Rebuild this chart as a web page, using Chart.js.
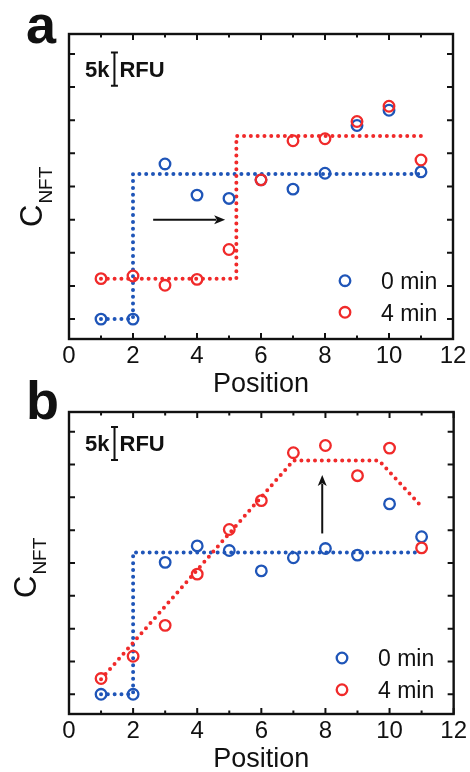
<!DOCTYPE html>
<html>
<head>
<meta charset="utf-8">
<script src="https://cdn.jsdelivr.net/npm/chart.js@4.4.0/dist/chart.umd.min.js"></script>
<style>
  html, body { margin: 0; padding: 0; background: #fff; }
  body { width: 470px; height: 772px; position: relative; overflow: hidden; }
  canvas { position: absolute; left: 0; }
  #chartA { top: 0; }
  #chartB { top: 380px; }
</style>
</head>
<body>
<canvas id="chartA" width="470" height="400"></canvas>
<canvas id="chartB" width="470" height="392"></canvas>
<script>
// positions along the channel
const positions = [1, 2, 3, 4, 5, 6, 7, 8, 9, 10, 11];
const xTicks = [0, 2, 4, 6, 8, 10, 12];
const yTicks = [0, 5, 10, 15, 20, 25, 30, 35, 40]; // k RFU, unlabeled
const seriesLabels = ['0 min', '4 min'];

// panel a (k RFU, arbitrary offset)
const aBlue = [0, 0, 23.4, 18.7, 18.2, 21.0, 19.6, 22.0, 29.2, 31.5, 22.2];
const aRed = [6.1, 6.5, 5.1, 6.0, 10.5, 21.0, 26.9, 27.2, 29.8, 32.1, 24.0];
const aBlueFitX = [1, 2, 2, 11];
const aBlueFitY = [0, 0, 21.9, 21.9];
const aRedFitX = [1, 5.23, 5.23, 11];
const aRedFitY = [6.1, 6.1, 27.6, 27.6];
const aArrow = [2.63, 15.0, 4.88, 15.0];
const aScaleBar = [1.42, 35.2, 40.2];

// panel b
const bBlue = [0, 0, 20.1, 22.6, 21.9, 18.8, 20.8, 22.2, 21.2, 29.0, 24.0];
const bRed = [2.4, 5.8, 10.5, 18.3, 25.1, 29.5, 36.8, 37.9, 33.3, 37.5, 22.3];
const bBlueFitX = [1, 2, 2, 11];
const bBlueFitY = [0, 0, 21.6, 21.6];
const bRedFitX = [1, 7, 9.67, 11];
const bRedFitY = [2.3, 35.6, 35.6, 28.6];
const bArrow = [7.9, 24.5, 7.9, 33.4];
const bScaleBar = [1.42, 35.7, 40.7];

const BLUE = '#1f55b8';
const RED = '#f02a2a';
const INK = '#111';
const FONT = '"Liberation Sans", Arial, sans-serif';

function pts(xs, ys) {
    return xs.map((x, i) => ({ x: x, y: ys[i] }));
}

function fitSet(xs, ys, color, order) {
    return {
        data: pts(xs, ys),
        showLine: true,
        borderColor: color,
        borderWidth: 4,
        borderDash: [0, 6.8],
        borderCapStyle: 'round',
        pointRadius: 0,
        order: order
    };
}

function pointSet(ys, color, order) {
    return {
        data: pts(positions, ys),
        showLine: false,
        borderColor: color,
        backgroundColor: 'transparent',
        borderWidth: 2.3,
        pointRadius: 5.3,
        order: order
    };
}

function decorPlugin(p) {
    return {
        id: 'decor',
        afterDraw(chart) {
            const ctx = chart.ctx;
            const a = chart.chartArea;
            const xs = chart.scales.x, ys = chart.scales.y;
            ctx.save();
            ctx.strokeStyle = INK;
            ctx.fillStyle = INK;

            // frame
            ctx.lineWidth = 2.4;
            ctx.strokeRect(a.left, a.top, a.right - a.left, a.bottom - a.top);

            // inward ticks on all sides
            ctx.lineWidth = 2;
            ctx.beginPath();
            for (let v = xs.min; v <= xs.max; v++) {
                const px = xs.getPixelForValue(v);
                const len = v % 2 === 0 ? 6 : 3.5;
                ctx.moveTo(px, a.bottom); ctx.lineTo(px, a.bottom - len);
                ctx.moveTo(px, a.top); ctx.lineTo(px, a.top + len);
            }
            yTicks.forEach(v => {
                const py = ys.getPixelForValue(v);
                ctx.moveTo(a.left, py); ctx.lineTo(a.left + 6, py);
                ctx.moveTo(a.right, py); ctx.lineTo(a.right - 6, py);
            });
            ctx.stroke();

            // arrow
            const x0 = xs.getPixelForValue(p.arrow[0]), y0 = ys.getPixelForValue(p.arrow[1]);
            const x1 = xs.getPixelForValue(p.arrow[2]), y1 = ys.getPixelForValue(p.arrow[3]);
            const ang = Math.atan2(y1 - y0, x1 - x0);
            const hl = 11, hw = 4.5;
            ctx.lineWidth = 2;
            ctx.beginPath();
            ctx.moveTo(x0, y0);
            ctx.lineTo(x1 - Math.cos(ang) * hl * 0.8, y1 - Math.sin(ang) * hl * 0.8);
            ctx.stroke();
            ctx.beginPath();
            ctx.moveTo(x1, y1);
            ctx.lineTo(x1 - Math.cos(ang) * hl - Math.sin(ang) * hw, y1 - Math.sin(ang) * hl + Math.cos(ang) * hw);
            ctx.lineTo(x1 - Math.cos(ang) * hl * 0.75, y1 - Math.sin(ang) * hl * 0.75);
            ctx.lineTo(x1 - Math.cos(ang) * hl + Math.sin(ang) * hw, y1 - Math.sin(ang) * hl - Math.cos(ang) * hw);
            ctx.closePath();
            ctx.fill();

            // 5k RFU scale bar
            const bx = xs.getPixelForValue(p.scaleBar[0]);
            const by0 = ys.getPixelForValue(p.scaleBar[1]);
            const by1 = ys.getPixelForValue(p.scaleBar[2]);
            ctx.lineWidth = 2;
            ctx.beginPath();
            ctx.moveTo(bx, by0); ctx.lineTo(bx, by1);
            ctx.moveTo(bx - 3.5, by0); ctx.lineTo(bx + 3.5, by0);
            ctx.moveTo(bx - 3.5, by1); ctx.lineTo(bx + 3.5, by1);
            ctx.stroke();
            ctx.font = 'bold 22px ' + FONT;
            ctx.textBaseline = 'alphabetic';
            const tb = (by0 + by1) / 2 + 7.8;
            ctx.textAlign = 'right';
            ctx.fillText('5k', bx - 5, tb);
            ctx.textAlign = 'left';
            ctx.fillText('RFU', bx + 5, tb);

            // legend
            const colors = [BLUE, RED];
            ctx.font = '23px ' + FONT;
            seriesLabels.forEach((lab, i) => {
                const cy = a.bottom - p.legendRows[i];
                const cx = a.left + p.legendX;
                ctx.strokeStyle = colors[i];
                ctx.lineWidth = 2.3;
                ctx.beginPath();
                ctx.arc(cx, cy, 5.3, 0, Math.PI * 2);
                ctx.stroke();
                ctx.fillStyle = INK;
                ctx.textAlign = 'left';
                ctx.fillText(lab, cx + 36, cy + 8.3);
            });

            // x title
            ctx.font = '27px ' + FONT;
            ctx.textAlign = 'center';
            ctx.fillText('Position', (a.left + a.right) / 2, a.bottom + 53);

            // y title C_NFT
            ctx.textAlign = 'left';
            ctx.save();
            ctx.translate(p.yTitle[0], p.yTitle[1]);
            ctx.rotate(-Math.PI / 2);
            ctx.font = '31px ' + FONT;
            ctx.fillText('C', 0, 0);
            const cw = ctx.measureText('C').width;
            ctx.font = '19px ' + FONT;
            ctx.fillText('NFT', cw + 1, 10);
            ctx.restore();

            // panel letter
            ctx.font = 'bold 54px ' + FONT;
            ctx.textAlign = 'left';
            ctx.fillText(p.letter, 26, p.letterBase);

            ctx.restore();
        }
    };
}

function makeChart(id, p) {
    return new Chart(document.getElementById(id), {
        type: 'scatter',
        data: {
            datasets: [
                fitSet(p.blueFitX, p.blueFitY, BLUE, 3),
                fitSet(p.redFitX, p.redFitY, RED, 2),
                pointSet(p.blue, BLUE, 1),
                pointSet(p.red, RED, 0)
            ]
        },
        options: {
            responsive: false,
            animation: false,
            layout: { padding: { left: 0, right: p.padRight, top: p.padTop, bottom: 0 } },
            plugins: { legend: { display: false }, tooltip: { enabled: false } },
            scales: {
                x: {
                    type: 'linear', min: 0, max: 12,
                    afterBuildTicks: s => { s.ticks = xTicks.map(v => ({ value: v })); },
                    ticks: { color: INK, font: { family: FONT, size: 24 }, padding: 3 },
                    grid: { display: false, drawTicks: false },
                    border: { display: false },
                    afterFit: s => { s.height = p.xAxisHeight; }
                },
                y: {
                    type: 'linear', min: -3, max: 43,
                    ticks: { display: false },
                    grid: { display: false, drawTicks: false },
                    border: { display: false },
                    afterFit: s => { s.width = 69; }
                }
            }
        },
        plugins: [decorPlugin(p)]
    });
}

makeChart('chartA', {
    blue: aBlue, red: aRed,
    blueFitX: aBlueFitX, blueFitY: aBlueFitY,
    redFitX: aRedFitX, redFitY: aRedFitY,
    arrow: aArrow, scaleBar: aScaleBar,
    padTop: 34, padRight: 17, xAxisHeight: 61,
    legendX: 276, legendRows: [58.3, 26.7],
    yTitle: [42, 227], letter: 'a', letterBase: 43
});

makeChart('chartB', {
    blue: bBlue, red: bRed,
    blueFitX: bBlueFitX, blueFitY: bBlueFitY,
    redFitX: bRedFitX, redFitY: bRedFitY,
    arrow: bArrow, scaleBar: bScaleBar,
    padTop: 32, padRight: 16, xAxisHeight: 58,
    legendX: 273, legendRows: [56, 24.3],
    yTitle: [36, 218], letter: 'b', letterBase: 39
});
</script>
</body>
</html>
